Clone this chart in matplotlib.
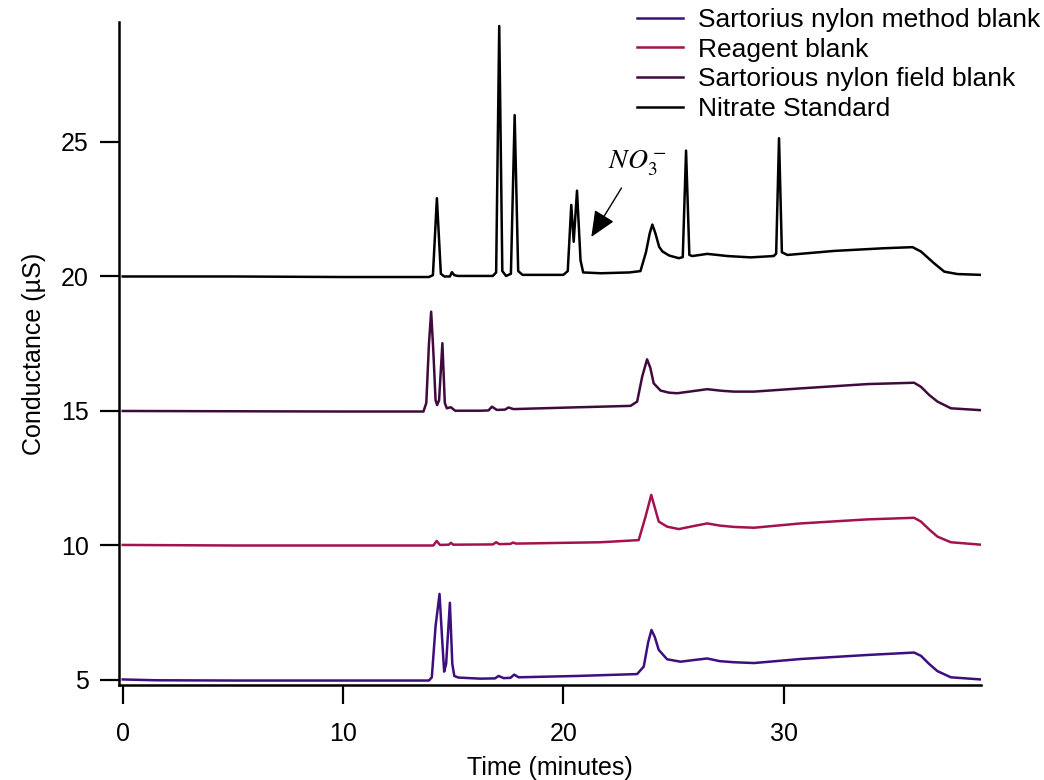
import numpy as np
import matplotlib.pyplot as plt

plt.rcParams['font.family'] = ['Liberation Sans', 'DejaVu Sans']
plt.rcParams['mathtext.fontset'] = 'stix'

# chromatograms (time in minutes, conductance in uS, already offset)
tMethod = [0.0, 1.5, 5.0, 10.0, 13.9, 14.03, 14.2, 14.38, 14.5, 14.59, 14.68, 14.85, 14.96, 15.05,
           15.24, 16.23, 16.9, 17.06, 17.29, 17.6, 17.77, 17.97, 20.62, 23.35, 23.65, 23.85, 24.0,
           24.15, 24.33, 24.71, 25.32, 25.9, 26.53, 27.1, 27.74, 28.65, 30.77, 33.8, 35.92, 36.23,
           36.6, 36.98, 37.59, 38.95]
yMethod = [5.02, 4.99, 4.98, 4.98, 4.98, 5.1, 7.0, 8.2, 6.5, 5.31, 5.6, 7.87, 5.6, 5.15,
           5.09, 5.05, 5.06, 5.15, 5.07, 5.08, 5.2, 5.1, 5.15, 5.22, 5.5, 6.4, 6.86,
           6.6, 6.12, 5.77, 5.68, 5.74, 5.80, 5.70, 5.66, 5.63, 5.78, 5.93, 6.02, 5.9,
           5.6, 5.33, 5.1, 5.02]

tReagent = [0.0, 5.0, 10.0, 14.1, 14.25, 14.4, 14.8, 14.9, 15.0, 16.8, 16.95, 17.1, 17.6, 17.72,
            17.85, 21.68, 23.42, 23.73, 23.99, 24.12, 24.33, 24.71, 25.24, 25.9, 26.53, 27.1,
            27.74, 28.65, 30.77, 33.8, 35.92, 36.23, 36.6, 36.98, 37.59, 38.95]
yReagent = [10.02, 10.0, 10.0, 10.0, 10.17, 10.02, 10.03, 10.1, 10.03, 10.04, 10.12, 10.05, 10.06, 10.11,
            10.07, 10.12, 10.2, 11.07, 11.88, 11.5, 10.89, 10.7, 10.61, 10.72, 10.82, 10.74,
            10.69, 10.66, 10.82, 10.97, 11.03, 10.89, 10.6, 10.33, 10.12, 10.03]

tField = [0.0, 5.0, 10.0, 13.65, 13.78, 13.9, 14.0, 14.1, 14.2, 14.27, 14.36, 14.51, 14.62, 14.71,
          14.89, 15.09, 16.23, 16.6, 16.76, 16.98, 17.35, 17.51, 17.74, 20.32, 23.05, 23.35, 23.58,
          23.8, 23.95, 24.1, 24.41, 24.8, 25.17, 25.9, 26.53, 27.2, 27.74, 28.65, 30.77, 33.8,
          35.92, 36.23, 36.6, 36.98, 37.59, 38.95]
yField = [15.0, 14.99, 14.98, 14.98, 15.3, 17.5, 18.69, 17.2, 15.4, 15.22, 15.4, 17.52, 15.3, 15.10,
          15.14, 15.01, 15.01, 15.02, 15.16, 15.04, 15.05, 15.13, 15.07, 15.13, 15.19, 15.35, 16.28,
          16.92, 16.6, 16.03, 15.76, 15.68, 15.66, 15.74, 15.81, 15.75, 15.72, 15.72, 15.84, 16.0,
          16.05, 15.9, 15.6, 15.35, 15.10, 15.03]

tNitrate = [0.0, 5.0, 10.0, 13.9, 14.08, 14.26, 14.44, 14.6, 14.85, 14.94, 15.05, 15.2, 16.8, 16.95,
            17.09, 17.23, 17.4, 17.62, 17.79, 17.95, 18.15, 20.0, 20.2, 20.36, 20.47, 20.62, 20.78,
            20.9, 21.7, 23.0, 23.5, 23.75, 23.92, 24.04, 24.18, 24.35, 24.5, 24.8, 25.24, 25.42,
            25.57, 25.72, 25.85, 26.2, 26.53, 27.0, 27.44, 28.5, 29.55, 29.66, 29.79, 29.92, 30.17,
            32.29, 34.56, 35.85, 36.23, 36.83, 37.29, 37.89, 38.95]
yNitrate = [20.0, 20.0, 19.98, 19.98, 20.05, 22.91, 20.1, 20.0, 20.0, 20.16, 20.05, 20.02, 20.02, 20.15,
            29.31, 20.2, 20.02, 20.1, 26.0, 20.2, 20.06, 20.06, 20.2, 22.66, 21.29, 23.19, 20.6,
            20.15, 20.12, 20.15, 20.2, 20.9, 21.6, 21.93, 21.6, 21.1, 20.93, 20.78, 20.68, 20.72,
            24.68, 20.8, 20.76, 20.8, 20.84, 20.8, 20.76, 20.71, 20.76, 20.85, 25.14, 20.9, 20.80,
            20.95, 21.05, 21.09, 20.93, 20.49, 20.18, 20.09, 20.06]

traces = [(tMethod, yMethod), (tReagent, yReagent), (tField, yField), (tNitrate, yNitrate)]
labels = ['Sartorius nylon method blank', 'Reagent blank', 'Sartorious nylon field blank', 'Nitrate Standard']
colorlist = ['#3d0f7e', '#a3124e', '#3f0b3d', 'black']

xTicks = [0, 10, 20, 30]
yTicks = [5, 10, 15, 20, 25]

fig = plt.figure(figsize=(10.44, 7.8), dpi=100)
ax = fig.add_axes([0.1143, 0.1218, 0.8254, 0.85])

for count in range(len(traces)):
    t, y = traces[count]
    ax.plot(t, y, color=colorlist[count], lw=1.8, label=labels[count])

# nitrate arrow + label
ax.annotate('', xy=(21.27, 21.47), xytext=(22.64, 23.29),
            arrowprops=dict(arrowstyle='-|>,head_length=0.8,head_width=0.35', color='black',
                            lw=1.0, mutation_scale=20, shrinkA=0, shrinkB=0))
ax.text(23.36, 24.22, r'$NO_3^-$', fontsize=20, ha='center', va='center')

ax.set_xlim(-0.154, 38.96)
ax.set_ylim(4.814, 29.46)
ax.set_xticks(xTicks)
ax.set_yticks(yTicks)
ax.spines['top'].set_visible(False)
ax.spines['right'].set_visible(False)
for s in ['left', 'bottom']:
    ax.spines[s].set_linewidth(1.8)
ax.tick_params(axis='both', direction='out', length=14, width=1.6, labelsize=18)
ax.tick_params(axis='x', pad=13)
ax.tick_params(axis='y', pad=8)

ax.set_xlabel('Time (minutes)', fontsize=18, labelpad=7)
ax.set_ylabel('Conductance (µS)', fontsize=18, labelpad=11)

leg = fig.legend(loc='upper left', bbox_to_anchor=(637 / 1044, 0.99), frameon=False,
                 fontsize=19, handlelength=1.75, handletextpad=0.55, labelspacing=0.22,
                 borderpad=0, borderaxespad=0)
for line in leg.get_lines():
    line.set_linewidth(1.8)

plt.savefig('out.png', dpi=100)
